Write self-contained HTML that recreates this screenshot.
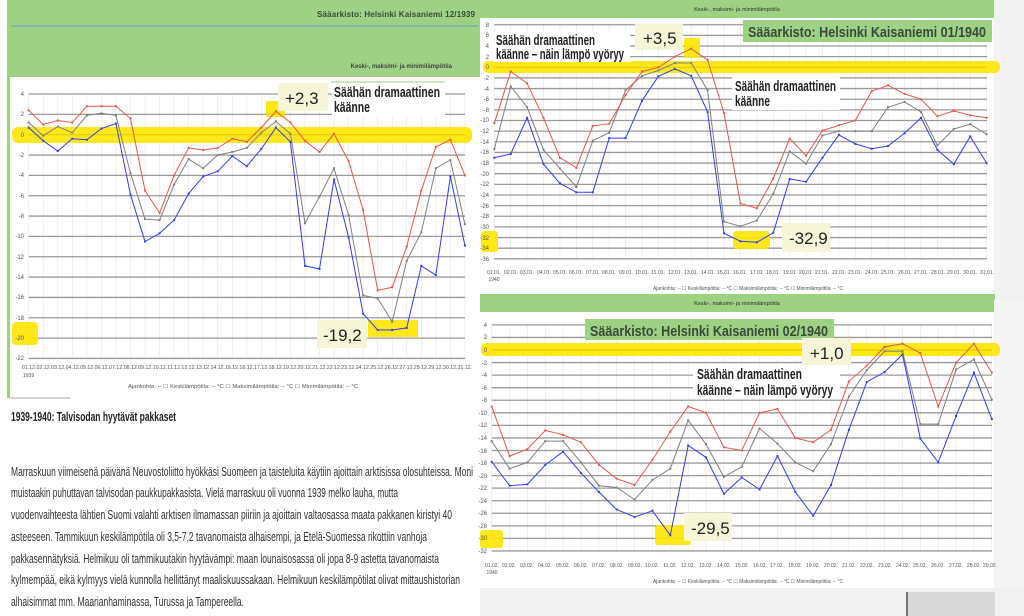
<!DOCTYPE html>
<html><head><meta charset="utf-8">
<style>
html,body{margin:0;padding:0;background:#fff;}
svg{display:block;font-family:"Liberation Sans",sans-serif;}
.tk{font-size:6px;fill:#555;text-anchor:end}
.xl{font-size:5px;fill:#555;text-anchor:middle}
.lg{font-size:5px;fill:#555}
.ann{font-size:15px;font-weight:bold;fill:#222}
.num{font-size:17px;fill:#222}
.ttl{font-size:15px;font-weight:bold;fill:#3c4a3a}
.p{font-size:12.5px;fill:#333}
</style></head>
<body>
<svg id="s" width="1024" height="616" viewBox="0 0 1024 616" xmlns="http://www.w3.org/2000/svg">
<!-- backgrounds -->
<rect x="0" y="0" width="1024" height="616" fill="#fff"/>
<rect x="7" y="0" width="473" height="77" fill="#9dd184"/>
<rect x="7" y="0" width="3" height="398" fill="#9dd184"/>
<line x1="11" y1="26" x2="478" y2="26" stroke="#6a9ec4" stroke-width="1"/>
<rect x="480" y="0" width="514" height="18" fill="#9dd184"/>
<rect x="994" y="0" width="30" height="300" fill="#f2f2f2"/>
<rect x="480" y="294" width="515" height="18" fill="#9dd184"/>
<rect x="994" y="300" width="30" height="290" fill="#f4f4f4"/>
<rect x="480" y="588" width="544" height="28" fill="#f1f1f1"/>
<rect x="907" y="592" width="88" height="24" fill="#d8d8d8"/>
<rect x="906" y="592" width="2" height="24" fill="#777"/>

<g id="grid"></g>
<!-- yellow highlights -->
<g fill="#ffe600" opacity="0.9">
<rect x="12" y="127" width="460" height="16" rx="6"/>
<rect x="266" y="101" width="19" height="16"/>
<rect x="368" y="320" width="50" height="17"/>
<rect x="12" y="322" width="26" height="23" rx="4"/>
<rect x="483" y="61" width="517" height="12" rx="5"/>
<rect x="684" y="38" width="16" height="20"/>
<rect x="733" y="231" width="37" height="18" rx="4"/>
<rect x="481" y="231" width="17" height="21" rx="3"/>
<rect x="481" y="343" width="519" height="13" rx="5"/>
<rect x="655" y="525" width="36" height="20" rx="3"/>
<rect x="480" y="530" width="23" height="18" rx="3"/>
</g>
<g id="series"></g>

<!-- chart1 text -->
<text x="475" y="17" class="ttl" text-anchor="end" style="font-size:8px" textLength="158">Sääarkisto: Helsinki Kaisaniemi 12/1939</text>
<text x="452" y="68" style="font-size:6px;fill:#444;font-weight:bold" text-anchor="end">Keski-, maksimi- ja minimilämpötila</text>
<g class="tk">
<text x="24" y="96">4</text><text x="24" y="116">2</text><text x="24" y="137">0</text><text x="24" y="157">-2</text><text x="24" y="177">-4</text><text x="24" y="198">-6</text><text x="24" y="218">-8</text><text x="24" y="238">-10</text><text x="24" y="259">-12</text><text x="24" y="279">-14</text><text x="24" y="299">-16</text><text x="24" y="320">-18</text><text x="24" y="340">-20</text><text x="24" y="360">-22</text>
</g>
<text x="22" y="369" style="font-size:5.5px;fill:#555" textLength="450" lengthAdjust="spacingAndGlyphs">01.12.02.12.03.12.04.12.05.12.06.12.07.12.08.12.09.12.10.12.11.12.12.12.13.12.14.12.15.12.16.12.17.12.18.12.19.12.20.12.21.12.22.12.23.12.24.12.25.12.26.12.27.12.28.12.29.12.30.12.31.12.</text>
<text x="23" y="377" style="font-size:5px;fill:#555">1939</text>
<text x="128" y="388" class="lg" textLength="230" lengthAdjust="spacingAndGlyphs">Ajankohta: --    ☐ Keskilämpötila: -- °C    ☐ Maksimilämpötila: -- °C    ☐ Minimilämpötila: -- °C</text>

<rect x="278" y="83" width="50" height="28" fill="#f7f5d8"/>
<text x="285" y="104" class="num">+2,3</text>
<rect x="332" y="82" width="113" height="33" fill="#fff"/>
<line x1="331" y1="82" x2="445" y2="82" stroke="#9dd184" stroke-width="1"/>
<text x="334" y="97" class="ann" textLength="106" lengthAdjust="spacingAndGlyphs">Säähän dramaattinen</text>
<text x="334" y="112" class="ann" textLength="36" lengthAdjust="spacingAndGlyphs">käänne</text>
<rect x="317" y="320" width="50" height="28" fill="#f7f5d8"/>
<text x="323" y="341" class="num">-19,2</text>

<!-- chart2 text -->
<text x="737" y="11" style="font-size:5.5px;fill:#333" text-anchor="middle">Keski-, maksimi- ja minimilämpötila</text>
<g class="tk">
<text x="489" y="27">8</text><text x="489" y="37">6</text><text x="489" y="48">4</text><text x="489" y="59">2</text><text x="489" y="69">0</text><text x="489" y="80">-2</text><text x="489" y="91">-4</text><text x="489" y="101">-6</text><text x="489" y="112">-8</text><text x="489" y="122">-10</text><text x="489" y="133">-12</text><text x="489" y="144">-14</text><text x="489" y="154">-16</text><text x="489" y="165">-18</text><text x="489" y="176">-20</text><text x="489" y="186">-22</text><text x="489" y="197">-24</text><text x="489" y="208">-26</text><text x="489" y="218">-28</text><text x="489" y="229">-30</text><text x="489" y="240">-32</text><text x="489" y="250">-34</text><text x="489" y="261">-36</text>
</g>
<g class="xl">
<text x="494" y="274">01.01.</text><text x="511" y="274">02.01.</text><text x="527" y="274">03.01.</text><text x="544" y="274">04.01.</text><text x="560" y="274">05.01.</text><text x="576" y="274">06.01.</text><text x="593" y="274">07.01.</text><text x="609" y="274">08.01.</text><text x="626" y="274">09.01.</text><text x="642" y="274">10.01.</text><text x="658" y="274">11.01.</text><text x="675" y="274">12.01.</text><text x="691" y="274">13.01.</text><text x="708" y="274">14.01.</text><text x="724" y="274">15.01.</text><text x="740" y="274">16.01.</text><text x="757" y="274">17.01.</text><text x="773" y="274">18.01.</text><text x="790" y="274">19.01.</text><text x="806" y="274">20.01.</text><text x="822" y="274">21.01.</text><text x="839" y="274">22.01.</text><text x="855" y="274">23.01.</text><text x="872" y="274">24.01.</text><text x="888" y="274">25.01.</text><text x="905" y="274">26.01.</text><text x="921" y="274">27.01.</text><text x="938" y="274">28.01.</text><text x="954" y="274">29.01.</text><text x="970" y="274">30.01.</text><text x="987" y="274">31.01.</text>
<text x="494" y="281">1940</text>
</g>
<text x="653" y="290" class="lg" textLength="190" lengthAdjust="spacingAndGlyphs">Ajankohta: --   ☐ Keskilämpötila: -- °C   ☐ Maksimilämpötila: -- °C   ☐ Minimilämpötila: -- °C</text>
<text x="737" y="305" style="font-size:5.5px;fill:#333" text-anchor="middle">Keski-, maksimi- ja minimilämpötila</text>

<rect x="743" y="20" width="249" height="22" fill="#9dd184"/>
<text x="748" y="37" class="ttl" textLength="238" lengthAdjust="spacingAndGlyphs">Sääarkisto: Helsinki Kaisaniemi 01/1940</text>
<rect x="493" y="32" width="137" height="30" fill="#fff"/>
<text x="496" y="45" class="ann" textLength="99" lengthAdjust="spacingAndGlyphs">Säähän dramaattinen</text>
<text x="496" y="59" class="ann" textLength="128" lengthAdjust="spacingAndGlyphs">käänne – näin lämpö vyöryy</text>
<rect x="635" y="24" width="48" height="26" fill="#f7f5d8"/>
<text x="643" y="44" class="num">+3,5</text>
<rect x="732" y="75" width="108" height="35" fill="#fff"/>
<text x="735" y="91" class="ann" textLength="101" lengthAdjust="spacingAndGlyphs">Säähän dramaattinen</text>
<text x="735" y="106" class="ann" textLength="35" lengthAdjust="spacingAndGlyphs">käänne</text>
<rect x="782" y="223" width="48" height="29" fill="#f7f5d8"/>
<text x="789" y="244" class="num">-32,9</text>

<!-- chart3 text -->
<g class="tk">
<text x="487" y="327">4</text><text x="487" y="339">2</text><text x="487" y="352">0</text><text x="487" y="365">-2</text><text x="487" y="377">-4</text><text x="487" y="390">-6</text><text x="487" y="402">-8</text><text x="487" y="415">-10</text><text x="487" y="427">-12</text><text x="487" y="440">-14</text><text x="487" y="453">-16</text><text x="487" y="465">-18</text><text x="487" y="478">-20</text><text x="487" y="490">-22</text><text x="487" y="503">-24</text><text x="487" y="515">-26</text><text x="487" y="528">-28</text><text x="487" y="540">-30</text><text x="487" y="553">-32</text>
</g>
<g class="xl">
<text x="492" y="567">01.02.</text><text x="509" y="567">02.02.</text><text x="527" y="567">03.02.</text><text x="545" y="567">04.02.</text><text x="563" y="567">05.02.</text><text x="581" y="567">06.02.</text><text x="599" y="567">07.02.</text><text x="617" y="567">08.02.</text><text x="635" y="567">09.02.</text><text x="652" y="567">10.02.</text><text x="670" y="567">11.02.</text><text x="688" y="567">12.02.</text><text x="706" y="567">13.02.</text><text x="724" y="567">14.02.</text><text x="742" y="567">15.02.</text><text x="760" y="567">16.02.</text><text x="777" y="567">17.02.</text><text x="795" y="567">18.02.</text><text x="813" y="567">19.02.</text><text x="831" y="567">20.02.</text><text x="849" y="567">21.02.</text><text x="867" y="567">22.02.</text><text x="885" y="567">23.02.</text><text x="903" y="567">24.02.</text><text x="920" y="567">25.02.</text><text x="938" y="567">26.02.</text><text x="956" y="567">27.02.</text><text x="974" y="567">28.02.</text><text x="990" y="567">29.02.</text>
<text x="492" y="574">1940</text>
</g>
<text x="653" y="583" class="lg" textLength="190" lengthAdjust="spacingAndGlyphs">Ajankohta: --   ☐ Keskilämpötila: -- °C   ☐ Maksimilämpötila: -- °C   ☐ Minimilämpötila: -- °C</text>

<rect x="585" y="319" width="249" height="21" fill="#9dd184"/>
<text x="590" y="336" class="ttl" textLength="238" lengthAdjust="spacingAndGlyphs">Sääarkisto: Helsinki Kaisaniemi 02/1940</text>
<rect x="802" y="338" width="49" height="27" fill="#f7f5d8"/>
<text x="810" y="359" class="num">+1,0</text>
<rect x="693" y="366" width="147" height="32" fill="#fff"/>
<text x="697" y="379" class="ann" textLength="105" lengthAdjust="spacingAndGlyphs">Säähän dramaattinen</text>
<text x="697" y="395" class="ann" textLength="136" lengthAdjust="spacingAndGlyphs">käänne – näin lämpö vyöryy</text>
<rect x="684" y="513" width="48" height="28" fill="#f7f5d8"/>
<text x="691" y="534" class="num">-29,5</text>

<!-- article text -->
<line x1="10" y1="398" x2="70" y2="398" stroke="#aaa" stroke-width="1"/>
<text x="11" y="421" style="font-size:12.5px;font-weight:bold;fill:#222" textLength="165" lengthAdjust="spacingAndGlyphs">1939-1940: Talvisodan hyytävät pakkaset</text>
<text x="11" y="476" class="p" textLength="462" lengthAdjust="spacingAndGlyphs">Marraskuun viimeisenä päivänä Neuvostoliitto hyökkäsi Suomeen ja taisteluita käytiin ajoittain arktisissa olosuhteissa. Moni</text>
<text x="11" y="497" class="p" textLength="387" lengthAdjust="spacingAndGlyphs">muistaakin puhuttavan talvisodan paukkupakkasista. Vielä marraskuu oli vuonna 1939 melko lauha, mutta</text>
<text x="11" y="519" class="p" textLength="441" lengthAdjust="spacingAndGlyphs">vuodenvaihteesta lähtien Suomi valahti arktisen ilmamassan piiriin ja ajoittain valtaosassa maata pakkanen kiristyi 40</text>
<text x="11" y="541" class="p" textLength="416" lengthAdjust="spacingAndGlyphs">asteeseen. Tammikuun keskilämpötila oli 3,5-7,2 tavanomaista alhaisempi, ja Etelä-Suomessa rikottiin vanhoja</text>
<text x="11" y="563" class="p" textLength="428" lengthAdjust="spacingAndGlyphs">pakkasennätyksiä. Helmikuu oli tammikuutakin hyytävämpi: maan lounaisosassa oli jopa 8-9 astetta tavanomaista</text>
<text x="11" y="584" class="p" textLength="449" lengthAdjust="spacingAndGlyphs">kylmempää, eikä kylmyys vielä kunnolla hellittänyt maaliskuussakaan. Helmikuun keskilämpötilat olivat mittaushistorian</text>
<text x="11" y="606" class="p" textLength="233" lengthAdjust="spacingAndGlyphs">alhaisimmat mm. Maarianhaminassa, Turussa ja Tampereella.</text>
</svg>
<script>
var NS="http://www.w3.org/2000/svg";
function el(p,t,a){var e=document.createElementNS(NS,t);for(var k in a)e.setAttribute(k,a[k]);p.appendChild(e);return e;}
var grid=document.getElementById('grid'),ser=document.getElementById('series');
var charts=[
{x0:28.7,dx:14.54,y0:134.7,sy:10.17,vmax:4,vmin:-22,x1:465,
 r:[2.4,1,1.4,1.2,2.8,2.8,2.8,1.6,-5.5,-7.7,-4,-1.3,-1.5,-1.3,-0.4,-0.7,0.7,2.3,1.2,-0.6,-1.7,0.1,-2.6,-7.4,-15.3,-15,-11,-5.5,-1.2,-0.5,-4],
 g:[1.2,-0.1,0.8,0.2,1.9,2.1,1.9,-3.8,-8.3,-8.4,-4.9,-2.4,-3.3,-2,-1.7,-1.3,0.2,1.3,0.1,-8.7,-6.1,-3.3,-7.9,-15.8,-16.1,-18.4,-12.4,-9.6,-3.3,-2.5,-8.8],
 b:[0.7,-0.6,-1.6,-0.4,-0.5,0.6,1.1,-5.9,-10.5,-9.7,-8.4,-5.8,-4.1,-3.6,-2.1,-3.1,-1.4,0.7,-0.7,-12.9,-13.2,-4.4,-10.1,-17.6,-19.2,-19.2,-19,-12.9,-13.8,-4.1,-10.9]},
{x0:494.3,dx:16.41,y0:67.3,sy:5.32,vmax:8,vmin:-36,x1:987,
 r:[-10.5,-0.8,-3,-9.5,-17,-18.9,-11,-10.6,-5.2,-0.8,0,2,3.5,1.4,-8.6,-25.6,-26.5,-20.9,-13.4,-16.6,-11.9,-10.9,-10,-4.5,-3.4,-5,-6,-9.2,-8.2,-9,-9.5],
 g:[-15.4,-3.6,-7.5,-15.5,-19,-22.5,-13.8,-12.3,-4.3,-1.6,-0.6,0.8,0.8,-4.3,-29,-29.9,-28.8,-23.8,-15.8,-18.1,-12.8,-12,-12,-12,-7.5,-6.5,-8.4,-14.7,-11.6,-10.7,-12.6],
 b:[-17,-16.3,-9.5,-18.2,-21.8,-23.5,-23.5,-13.3,-13.3,-6.3,-1.7,-0.3,-1.6,-8.4,-31.2,-32.7,-32.9,-31.1,-21,-21.5,-17,-12.7,-14.4,-15.3,-14.8,-12.4,-9.5,-15.5,-18.2,-13,-18]},
{x0:491.7,dx:17.86,y0:350,sy:6.28,vmax:4,vmin:-32,x1:992,
 r:[-9,-16.9,-15.8,-12.8,-13.5,-14.7,-18.3,-20.5,-21.5,-17.5,-13,-9,-10,-15.5,-16,-10,-9.4,-14,-14.7,-12.7,-5,-2.5,0.5,1,-0.5,-9,-2,1,-3.6],
 g:[-14.5,-18.9,-17.9,-14.5,-14.5,-17.9,-21.6,-21.9,-23.8,-20.7,-18.9,-11.2,-15,-20.2,-18.6,-12.5,-14.9,-17.9,-19.3,-15,-7.4,-3.2,-0.2,-0.2,-11.8,-11.8,-3.1,-1.5,-7.9],
 b:[-17.8,-21.6,-21.4,-18.3,-16.2,-19.6,-22.6,-25.4,-26.6,-25.6,-29.5,-15.2,-17.1,-22.9,-20.3,-22.2,-16.9,-22.6,-26.4,-21.5,-12.7,-5.1,-3.5,-0.7,-14.1,-17.9,-10.5,-3.6,-11]}
];
charts.forEach(function(c){
 var n=c.r.length,yt=c.y0-c.vmax*c.sy,yb=c.y0-c.vmin*c.sy;
 for(var i=0;i<n;i++){var x=c.x0+i*c.dx;el(grid,'line',{x1:x,x2:x,y1:yt,y2:yb,stroke:'#e6e6e6','stroke-width':0.6});}
 for(var v=c.vmax;v>=c.vmin;v-=2){var y=c.y0-v*c.sy;el(grid,'line',{x1:c.x0,x2:c.x1,y1:y,y2:y,stroke:v==0?'#222':'#9a9a9a','stroke-width':v==0?1.4:1.3});}
 [['g','#808080'],['r','#e8584a'],['b','#3040f0']].forEach(function(s){
  var pts=c[s[0]].map(function(v,i){return (c.x0+i*c.dx).toFixed(1)+','+(c.y0-v*c.sy).toFixed(1);});
  el(ser,'polyline',{points:pts.join(' '),fill:'none',stroke:s[1],'stroke-width':1});
  c[s[0]].forEach(function(v,i){el(ser,'rect',{x:c.x0+i*c.dx-1,y:c.y0-v*c.sy-1,width:2,height:2,fill:s[1]});});
 });
});
</script>
</body></html>
